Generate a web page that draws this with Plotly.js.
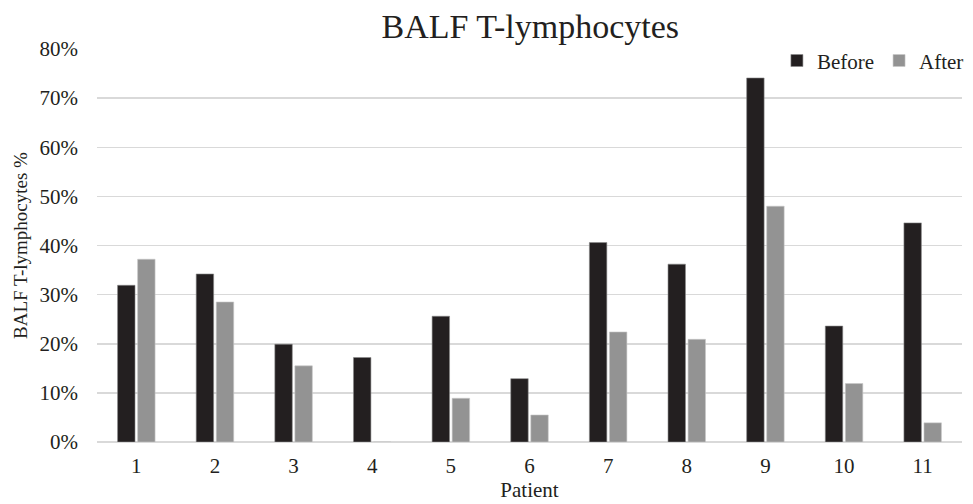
<!DOCTYPE html>
<html>
<head>
<meta charset="utf-8">
<script src="https://cdn.plot.ly/plotly-3.0.1.min.js"></script>
<style>html,body{margin:0;padding:0;background:#fff;}#chart{width:973px;height:504px;}</style>
</head>
<body>
<div id="chart"></div>
<script>
const patients = ["1","2","3","4","5","6","7","8","9","10","11"];
const before = [0.319, 0.342, 0.199, 0.172, 0.256, 0.129, 0.406, 0.362, 0.741, 0.236, 0.446];
const after  = [0.372, 0.285, 0.155, 0, 0.089, 0.055, 0.224, 0.209, 0.480, 0.119, 0.039];
const yTicks = [0, 0.1, 0.2, 0.3, 0.4, 0.5, 0.6, 0.7, 0.8];
const yTickText = ["0%","10%","20%","30%","40%","50%","60%","70%","80%"];

const font = "Liberation Serif, Times New Roman, serif";
const traces = [
  {type:"bar", name:"Before", x:patients, y:before,
   marker:{color:"#231f20", line:{color:"#8a8a8a", width:0.6}}},
  {type:"bar", name:"After", x:patients, y:after,
   marker:{color:"#939393", line:{color:"#c8c8c8", width:0.6}}}
];
const layout = {
  width:973, height:504,
  margin:{l:97, r:4, t:49, b:62},
  paper_bgcolor:"#fff", plot_bgcolor:"#fff",
  font:{family:font, color:"#231f20", size:21},
  title:{text:"BALF T-lymphocytes", font:{family:font, size:34, color:"#231f20"},
         x:0.545, xanchor:"center", y:0.925, yanchor:"bottom"},
  barmode:"group", bargap:0.49, bargroupgap:0.13,
  showlegend:true,
  legend:{orientation:"h", x:1.008, xanchor:"right", y:1.022, yanchor:"top",
          font:{family:font, size:21, color:"#231f20"}, bgcolor:"rgba(0,0,0,0)",
          itemwidth:30, traceorder:"normal"},
  xaxis:{type:"category", showgrid:false, zeroline:false, showline:false,
         ticks:"", tickfont:{family:font, size:21}, ticklabelstandoff:9,
         title:{text:"Patient", font:{family:font, size:21}, standoff:0}},
  yaxis:{range:[0,0.8], tickvals:yTicks, ticktext:yTickText, showgrid:true,
         gridcolor:"#d9d9d9", gridwidth:1.5, zeroline:true, zerolinecolor:"#d9d9d9", zerolinewidth:1.5,
         showline:false, ticks:"", tickfont:{family:font, size:21}, ticklabelstandoff:18,
         title:{text:"BALF T-lymphocytes %", font:{family:font, size:19}, standoff:6}}
};
Plotly.newPlot("chart", traces, layout, {displayModeBar:false, staticPlot:true});
</script>
</body>
</html>
